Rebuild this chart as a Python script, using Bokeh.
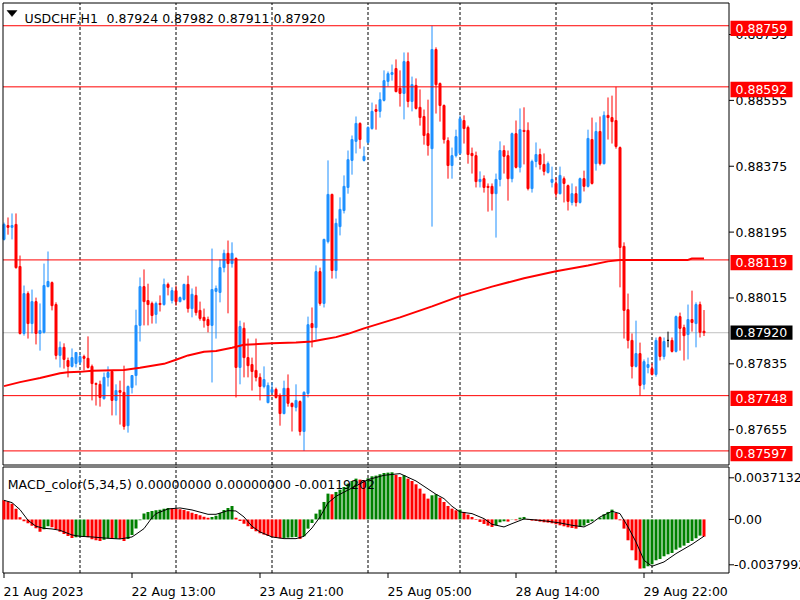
from bokeh.plotting import figure
from bokeh.models import Range1d
from bokeh.core.properties import value
from bokeh.embed import file_html
from bokeh.resources import INLINE

# ---------------- data ----------------
symbol = "USDCHF,H1"
tick_bars = [0, 32, 64, 96, 128, 160]
tick_labels = ["21 Aug 2023", "22 Aug 13:00", "23 Aug 21:00", "25 Aug 05:00", "28 Aug 14:00", "29 Aug 22:00"]
day_start_bars = [19, 43, 67, 91, 114, 138, 162]
price_ticks = [0.87655, 0.87835, 0.88015, 0.88195, 0.88375, 0.88555, 0.88735]
levels = [0.88759, 0.88592, 0.88119, 0.87748, 0.87597]
bid = 0.87920

opens = [0.88175, 0.88213, 0.88208, 0.88216, 0.88101, 0.87918, 0.88027, 0.87945, 0.88005, 0.87918,
         0.87921, 0.88046, 0.88057, 0.87997, 0.87858, 0.87880, 0.87844, 0.87828, 0.87836, 0.87839,
         0.87855, 0.87850, 0.87828, 0.87781, 0.87779, 0.87740, 0.87798, 0.87814, 0.87735, 0.87762,
         0.87757, 0.87666, 0.87770, 0.87803, 0.87940, 0.88046, 0.88008, 0.88000, 0.87970, 0.88000,
         0.87997, 0.88052, 0.88008, 0.88035, 0.88005, 0.88011, 0.88052, 0.87986, 0.88022, 0.87981,
         0.87962, 0.87956, 0.87940, 0.88033, 0.88030, 0.88098, 0.88137, 0.88109, 0.88123, 0.87825,
         0.87932, 0.87852, 0.87833, 0.87817, 0.87798, 0.87773, 0.87729, 0.87757, 0.87765, 0.87748,
         0.87699, 0.87768, 0.87727, 0.87716, 0.87732, 0.87650, 0.87754, 0.87945, 0.87934, 0.88087,
         0.88000, 0.88169, 0.88298, 0.88090, 0.88210, 0.88254, 0.88317, 0.88391, 0.88443, 0.88492,
         0.88391, 0.88440, 0.88478, 0.88530, 0.88525, 0.88555, 0.88607, 0.88626, 0.88642, 0.88588,
         0.88574, 0.88661, 0.88552, 0.88596, 0.88536, 0.88511, 0.88464, 0.88423, 0.88694, 0.88601,
         0.88541, 0.88445, 0.88377, 0.88404, 0.88410, 0.88500, 0.88481, 0.88410, 0.88404, 0.88333,
         0.88341, 0.88320, 0.88320, 0.88300, 0.88339, 0.88418, 0.88404, 0.88341, 0.88464, 0.88372,
         0.88473, 0.88473, 0.88314, 0.88388, 0.88407, 0.88380, 0.88358, 0.88331, 0.88328, 0.88300,
         0.88341, 0.88322, 0.88276, 0.88300, 0.88276, 0.88341, 0.88320, 0.88448, 0.88382, 0.88470,
         0.88382, 0.88514, 0.88508, 0.88500, 0.88426, 0.88156, 0.87983, 0.87899, 0.87828, 0.87863,
         0.87779, 0.87825, 0.87822, 0.87806, 0.87907, 0.87855, 0.87899, 0.87899, 0.87869, 0.87964,
         0.87934, 0.87915, 0.87956, 0.87945, 0.87997, 0.87924]
highs = [0.88221, 0.88235, 0.88246, 0.88246, 0.88131, 0.88049, 0.88033, 0.88038, 0.88016, 0.88000,
         0.88109, 0.88142, 0.88060, 0.88003, 0.87896, 0.87891, 0.87852, 0.87877, 0.87866, 0.87863,
         0.87860, 0.87910, 0.87833, 0.87784, 0.87789, 0.87811, 0.87828, 0.87817, 0.87779, 0.87789,
         0.87830, 0.87776, 0.87803, 0.87983, 0.88071, 0.88093, 0.88054, 0.88005, 0.88005, 0.88022,
         0.88068, 0.88057, 0.88044, 0.88049, 0.88019, 0.88054, 0.88076, 0.88041, 0.88046, 0.88005,
         0.87986, 0.87964, 0.88150, 0.88049, 0.88120, 0.88147, 0.88172, 0.88167, 0.88126, 0.87953,
         0.87948, 0.87904, 0.87852, 0.87904, 0.87809, 0.87828, 0.87784, 0.87784, 0.87770, 0.87754,
         0.87789, 0.87806, 0.87729, 0.87779, 0.87735, 0.87760, 0.87964, 0.87989, 0.88104, 0.88098,
         0.88177, 0.88391, 0.88300, 0.88232, 0.88290, 0.88350, 0.88418, 0.88459, 0.88511, 0.88495,
         0.88429, 0.88484, 0.88549, 0.88544, 0.88577, 0.88637, 0.88634, 0.88653, 0.88667, 0.88637,
         0.88686, 0.88686, 0.88620, 0.88615, 0.88585, 0.88530, 0.88557, 0.88759, 0.88700, 0.88604,
         0.88544, 0.88454, 0.88426, 0.88475, 0.88514, 0.88514, 0.88486, 0.88426, 0.88415, 0.88361,
         0.88350, 0.88328, 0.88328, 0.88355, 0.88443, 0.88432, 0.88418, 0.88467, 0.88500, 0.88533,
         0.88536, 0.88495, 0.88393, 0.88440, 0.88423, 0.88410, 0.88388, 0.88374, 0.88344, 0.88374,
         0.88347, 0.88325, 0.88328, 0.88320, 0.88344, 0.88363, 0.88475, 0.88508, 0.88495, 0.88511,
         0.88525, 0.88563, 0.88568, 0.88592, 0.88429, 0.88167, 0.88027, 0.87918, 0.87953, 0.87893,
         0.87847, 0.87852, 0.87836, 0.87907, 0.87910, 0.87907, 0.87923, 0.87907, 0.87967, 0.87975,
         0.87942, 0.87997, 0.88035, 0.88003, 0.88005, 0.87982]
lows = [0.88172, 0.88188, 0.88175, 0.88095, 0.87915, 0.87912, 0.87904, 0.87918, 0.87888, 0.87871,
        0.87918, 0.88044, 0.87981, 0.87847, 0.87825, 0.87822, 0.87798, 0.87825, 0.87825, 0.87833,
        0.87817, 0.87822, 0.87735, 0.87721, 0.87718, 0.87737, 0.87773, 0.87694, 0.87694, 0.87669,
        0.87655, 0.87647, 0.87754, 0.87776, 0.87896, 0.87940, 0.87940, 0.87945, 0.87945, 0.87978,
        0.87994, 0.88022, 0.88000, 0.87994, 0.88003, 0.88008, 0.87975, 0.87962, 0.87967, 0.87953,
        0.87934, 0.87921, 0.87784, 0.87904, 0.88003, 0.88085, 0.87973, 0.88098, 0.87743, 0.87779,
        0.87798, 0.87798, 0.87762, 0.87787, 0.87735, 0.87768, 0.87727, 0.87754, 0.87740, 0.87666,
        0.87697, 0.87718, 0.87650, 0.87705, 0.87639, 0.87597, 0.87743, 0.87880, 0.87901, 0.87994,
        0.87989, 0.88164, 0.88068, 0.88068, 0.88186, 0.88246, 0.88300, 0.88352, 0.88410, 0.88423,
        0.88388, 0.88437, 0.88475, 0.88475, 0.88508, 0.88552, 0.88593, 0.88609, 0.88577, 0.88538,
        0.88503, 0.88536, 0.88525, 0.88530, 0.88486, 0.88434, 0.88404, 0.88210, 0.88519, 0.88497,
        0.88437, 0.88341, 0.88341, 0.88399, 0.88407, 0.88437, 0.88382, 0.88355, 0.88317, 0.88317,
        0.88303, 0.88251, 0.88254, 0.88180, 0.88320, 0.88355, 0.88281, 0.88331, 0.88369, 0.88358,
        0.88380, 0.88309, 0.88303, 0.88372, 0.88366, 0.88350, 0.88355, 0.88317, 0.88290, 0.88298,
        0.88276, 0.88254, 0.88268, 0.88265, 0.88273, 0.88306, 0.88317, 0.88325, 0.88363, 0.88377,
        0.88380, 0.88448, 0.88437, 0.88423, 0.88044, 0.87904, 0.87877, 0.87795, 0.87825, 0.87748,
        0.87765, 0.87809, 0.87803, 0.87800, 0.87844, 0.87847, 0.87880, 0.87866, 0.87866, 0.87871,
        0.87844, 0.87847, 0.87923, 0.87880, 0.87907, 0.87911]
closes = [0.88216, 0.88208, 0.88213, 0.88098, 0.87918, 0.88027, 0.87945, 0.88005, 0.87918, 0.87926,
          0.88049, 0.88060, 0.87994, 0.87858, 0.87880, 0.87847, 0.87828, 0.87852, 0.87866, 0.87855,
          0.87850, 0.87825, 0.87781, 0.87779, 0.87743, 0.87798, 0.87811, 0.87735, 0.87762, 0.87757,
          0.87664, 0.87773, 0.87803, 0.87940, 0.88046, 0.88005, 0.87997, 0.87967, 0.88000, 0.87997,
          0.88052, 0.88044, 0.88035, 0.88005, 0.88016, 0.88052, 0.87986, 0.88025, 0.87975, 0.87959,
          0.87953, 0.87940, 0.88038, 0.88041, 0.88098, 0.88137, 0.88109, 0.88137, 0.87825, 0.87937,
          0.87852, 0.87830, 0.87814, 0.87798, 0.87773, 0.87792, 0.87776, 0.87765, 0.87743, 0.87699,
          0.87768, 0.87727, 0.87718, 0.87735, 0.87650, 0.87757, 0.87942, 0.87934, 0.88087, 0.88000,
          0.88175, 0.88298, 0.88090, 0.88219, 0.88257, 0.88320, 0.88393, 0.88448, 0.88492, 0.88448,
          0.88402, 0.88481, 0.88525, 0.88525, 0.88557, 0.88609, 0.88628, 0.88631, 0.88579, 0.88574,
          0.88661, 0.88552, 0.88598, 0.88533, 0.88508, 0.88459, 0.88432, 0.88694, 0.88598, 0.88541,
          0.88448, 0.88377, 0.88404, 0.88456, 0.88505, 0.88478, 0.88407, 0.88404, 0.88333, 0.88339,
          0.88317, 0.88317, 0.88300, 0.88339, 0.88418, 0.88402, 0.88341, 0.88464, 0.88372, 0.88475,
          0.88470, 0.88314, 0.88388, 0.88407, 0.88380, 0.88361, 0.88382, 0.88339, 0.88300, 0.88350,
          0.88328, 0.88279, 0.88300, 0.88276, 0.88341, 0.88320, 0.88451, 0.88328, 0.88470, 0.88382,
          0.88514, 0.88508, 0.88497, 0.88429, 0.88153, 0.87981, 0.87899, 0.87828, 0.87863, 0.87776,
          0.87841, 0.87833, 0.87806, 0.87899, 0.87855, 0.87896, 0.87899, 0.87869, 0.87964, 0.87932,
          0.87912, 0.87956, 0.87948, 0.87997, 0.87921, 0.87920]

ma_idx = [0, 4, 9, 14, 16, 19, 22, 30, 34, 40, 43, 46, 50, 53, 57, 60, 67, 73, 77, 80,
          83, 86, 90, 99, 107, 114, 122, 130, 138, 146, 151, 154, 171, 172, 175]
ma_val = [0.87774, 0.87785, 0.87796, 0.87809, 0.87812, 0.87813, 0.87816, 0.87818, 0.87824, 0.87835,
          0.87846, 0.87858, 0.87868, 0.87870, 0.87879, 0.87887, 0.87891, 0.87893, 0.87896, 0.87902,
          0.87908, 0.87917, 0.87932, 0.87962, 0.87992, 0.88020, 0.88046, 0.88069, 0.88088, 0.88104,
          0.88115, 0.88119, 0.88119, 0.88123, 0.88123]

macd_name = "MACD_color(5,34,5)"
macd_max = 0.0037132
macd_min = -0.0037992
hist = [0.001353, 0.001259, 0.001117, 0.000763, 0.000149, -0.000135, -0.000276, -0.000442, -0.000631, -0.000867,
        -0.000702, -0.000489, -0.000560, -0.000702, -0.000867, -0.001032, -0.001174, -0.001316, -0.001268, -0.001221,
        -0.001198, -0.001268, -0.001410, -0.001481, -0.001528, -0.001434, -0.001339, -0.001386, -0.001363, -0.001398,
        -0.001528, -0.001386, -0.001103, -0.000654, -0.000064, 0.000409, 0.000527, 0.000598, 0.000645, 0.000692,
        0.000763, 0.000810, 0.000787, 0.000763, 0.000716, 0.000668, 0.000574, 0.000479, 0.000385, 0.000291,
        0.000196, 0.000125, 0.000172, 0.000267, 0.000456, 0.000668, 0.000810, 0.000952, 0.000125, -0.000111,
        -0.000300, -0.000489, -0.000678, -0.000843, -0.000985, -0.001079, -0.001174, -0.001245, -0.001292, -0.001339,
        -0.001316, -0.001292, -0.001268, -0.001245, -0.001386, -0.001198, -0.000654, -0.000253, 0.000409, 0.000692,
        0.001235, 0.001826, 0.001779, 0.001944, 0.002109, 0.002298, 0.002534, 0.002723, 0.002889, 0.002818,
        0.002771, 0.002912, 0.003054, 0.003101, 0.003196, 0.003290, 0.003314, 0.003338, 0.003149, 0.003007,
        0.003125, 0.002889, 0.002723, 0.002487, 0.002180, 0.001826, 0.001472, 0.001708, 0.001779, 0.001542,
        0.001235, 0.000952, 0.000763, 0.000645, 0.000692, 0.000527, 0.000338, 0.000172, -0.000040, -0.000182,
        -0.000324, -0.000442, -0.000536, -0.000418, -0.000205, -0.000135, -0.000158, -0.000017, -0.000064, 0.000125,
        0.000172, -0.000040, -0.000087, -0.000111, -0.000158, -0.000205, -0.000229, -0.000276, -0.000347, -0.000418,
        -0.000489, -0.000560, -0.000607, -0.000654, -0.000536, -0.000442, -0.000253, -0.000135, 0.000007, 0.000125,
        0.000361, 0.000527, 0.000692, 0.000456, -0.000064, -0.000654, -0.001481, -0.002190, -0.002898, -0.003489,
        -0.003465, -0.003323, -0.003182, -0.002898, -0.002804, -0.002615, -0.002473, -0.002379, -0.002142, -0.002001,
        -0.001859, -0.001670, -0.001528, -0.001339, -0.001150, -0.001221]
sig_idx = [0, 2, 4, 6, 8, 10, 12, 14, 17, 19, 22, 26, 29, 32, 33, 35, 37, 38, 41, 44,
           47, 51, 53, 56, 58, 60, 62, 64, 67, 70, 73, 75, 77, 79, 81, 83, 87, 91, 95, 99,
           103, 105, 108, 110, 112, 114, 117, 120, 122, 125, 127, 130, 133, 136, 139, 142, 145, 147, 149, 152,
           154, 156, 158, 160, 162, 165, 168, 172, 175]
sig_val = [0.001353, 0.001188, 0.000692, -0.000064, -0.000489, -0.000631, -0.000678, -0.000772, -0.001103, -0.001198,
           -0.001245, -0.001339, -0.001386, -0.001245, -0.001056, -0.000654, 0.000125, 0.000409, 0.000739, 0.000810,
           0.000668, 0.000361, 0.000361, 0.000621, 0.000598, 0.000172, -0.000489, -0.000890, -0.001245, -0.001363,
           -0.001363, -0.001198, -0.000607, 0.000172, 0.001164, 0.001637, 0.002227, 0.002818, 0.003125, 0.003243,
           0.002723, 0.002345, 0.001779, 0.001472, 0.000928, 0.000527, 0.000409, 0.000054, -0.000347, -0.000536,
           -0.000300, 0.000031, -0.000040, -0.000135, -0.000253, -0.000418, -0.000536, -0.000253, 0.000172, 0.000574,
           0.000409, -0.000536, -0.001599, -0.002898, -0.003323, -0.003016, -0.002426, -0.001764, -0.00119202]
macd_header_vals = [0.0, 0.0, -0.00119202]

# ---------------- layout calibration (screen px -> data) ----------------
FONT = value("DejaVu Sans")
FS = value("12.5px")
BULL, BEAR, DOJI = "#1E90FF", "#FF0000", "#000000"
RED, GREEN = "#FF0000", "#008000"

PPB = 4.0                      # px per bar
def xpx(fx):                   # screen x -> bar coordinate
    return (fx - 3.5) / PPB
PP = 2.7331e-5                 # price per px
P0 = 0.88828                   # price at screen y = 0
def ppx(fy):
    return P0 - PP * fy
MP = (macd_max - macd_min) / 106.0
def mpx(fy):
    return macd_max - (fy - 466.5) * MP

n = len(opens)
idx = list(range(n))

p = figure(width=800, height=600, x_range=Range1d(xpx(0), xpx(800)),
           y_range=Range1d(ppx(600), ppx(0)), output_backend="svg", toolbar_location=None,
           x_axis_location=None, y_axis_location=None, min_border=0)
p.extra_y_ranges = {"macd": Range1d(mpx(600), mpx(0))}
p.xgrid.visible = False
p.ygrid.visible = False
p.outline_line_color = None
p.background_fill_color = "white"
p.border_fill_color = "white"

def text(x, y, s, color="black", align="left", baseline="middle", yname="default"):
    p.text(x=x, y=y, text=s, text_color=color, text_align=align, text_baseline=baseline,
           text_font=FONT, text_font_size=FS, y_range_name=yname)

L, R = xpx(2.5), xpx(728.5)
T, B = ppx(2.5), ppx(464.5)
nd = len(day_start_bars)

# day separators (both panels)
p.segment(x0=day_start_bars, x1=day_start_bars, y0=[B] * nd, y1=[T] * nd,
          line_color="black", line_width=1, line_dash="3 2")
p.segment(x0=day_start_bars, x1=day_start_bars, y0=[macd_min] * nd, y1=[macd_max] * nd,
          line_color="black", line_width=1, line_dash="3 2", y_range_name="macd")
# bid line
p.segment(x0=[L], x1=[R], y0=[bid], y1=[bid], line_color="#C0C0C0", line_width=1)

# candles
ccol = [BULL if c > o else (BEAR if c < o else DOJI) for o, c in zip(opens, closes)]
p.segment(x0=idx, x1=idx, y0=lows, y1=highs, line_color=ccol, line_width=1)
p.vbar(x=idx, width=0.5, top=[max(o, c) for o, c in zip(opens, closes)],
       bottom=[min(o, c) for o, c in zip(opens, closes)], fill_color=ccol, line_color=ccol, line_width=1)
# moving average
p.line(ma_idx, ma_val, line_color=RED, line_width=2)
# horizontal levels
nl = len(levels)
p.segment(x0=[L] * nl, x1=[R] * nl, y0=levels, y1=levels, line_color=RED, line_width=1)

# panel frames
p.quad(left=[L], right=[R], top=[T], bottom=[B], fill_color=None, line_color="black", line_width=1)
p.quad(left=[L], right=[R], top=[macd_max], bottom=[macd_min], fill_color=None, line_color="black",
       line_width=1, y_range_name="macd")

# price axis
nt = len(price_ticks)
p.segment(x0=[R] * nt, x1=[xpx(733.5)] * nt, y0=price_ticks, y1=price_ticks, line_color="black", line_width=1)
text([xpx(735)] * nt, price_ticks, [f"{t:.5f}" for t in price_ticks])

# level tags
p.quad(left=[xpx(730)] * nl, right=[xpx(792)] * nl, top=[lv + 5 * PP for lv in levels],
       bottom=[lv - 10.3 * PP for lv in levels], fill_color=RED, line_color=None)
text([xpx(735)] * nl, [lv - 2.6 * PP for lv in levels], [f"{lv:.5f}" for lv in levels], color="white")
p.quad(left=[xpx(730)], right=[xpx(792)], top=[bid + 7.2 * PP], bottom=[bid - 7.1 * PP],
       fill_color="black", line_color=None)
text([xpx(735)], [bid], [f"{bid:.5f}"], color="white")

# header
p.patch(x=[xpx(6.5), xpx(16.5), xpx(11.5)], y=[ppx(10), ppx(10), ppx(16)], fill_color="black",
        line_color="black", line_width=0.5)
text([xpx(24)], [ppx(18.3)], [symbol], baseline="alphabetic")
text([xpx(106)], [ppx(18.3)],
     [" ".join(f"{v:.5f}" for v in (opens[-1], highs[-1], lows[-1], closes[-1]))], baseline="alphabetic")

# ---------------- MACD panel ----------------
hcol = [RED] + [GREEN if hist[i] > hist[i - 1] else RED for i in range(1, n)]
p.vbar(x=idx, width=0.75, top=hist, bottom=0, fill_color=hcol, line_color=None, y_range_name="macd")
p.line(sig_idx, sig_val, line_color="black", line_width=1, y_range_name="macd")

text([xpx(7.3)], [mpx(483.7)],
     [macd_name + " " + " ".join(f"{v:.8f}" for v in macd_header_vals)], baseline="alphabetic", yname="macd")
m_lab_y = [mpx(477.3), 0.0, mpx(564.3)]
m_lab_t = [f"{macd_max:.7f}", "0.00", f"{macd_min:.7f}"]
p.segment(x0=[R] * 3, x1=[xpx(733.5)] * 3, y0=m_lab_y, y1=m_lab_y, line_color="black", line_width=1,
          y_range_name="macd")
text([xpx(733.5)] * 3, m_lab_y, m_lab_t, yname="macd")

# time axis
ntk = len(tick_bars)
p.segment(x0=tick_bars, x1=tick_bars, y0=[macd_min] * ntk, y1=[mpx(577.5)] * ntk, line_color="black",
          line_width=1, y_range_name="macd")
text([b - 0.5 / PPB for b in tick_bars], [mpx(590.5)] * ntk, tick_labels, baseline="alphabetic", yname="macd")

open("out.html", "w").write(file_html(p, INLINE))
